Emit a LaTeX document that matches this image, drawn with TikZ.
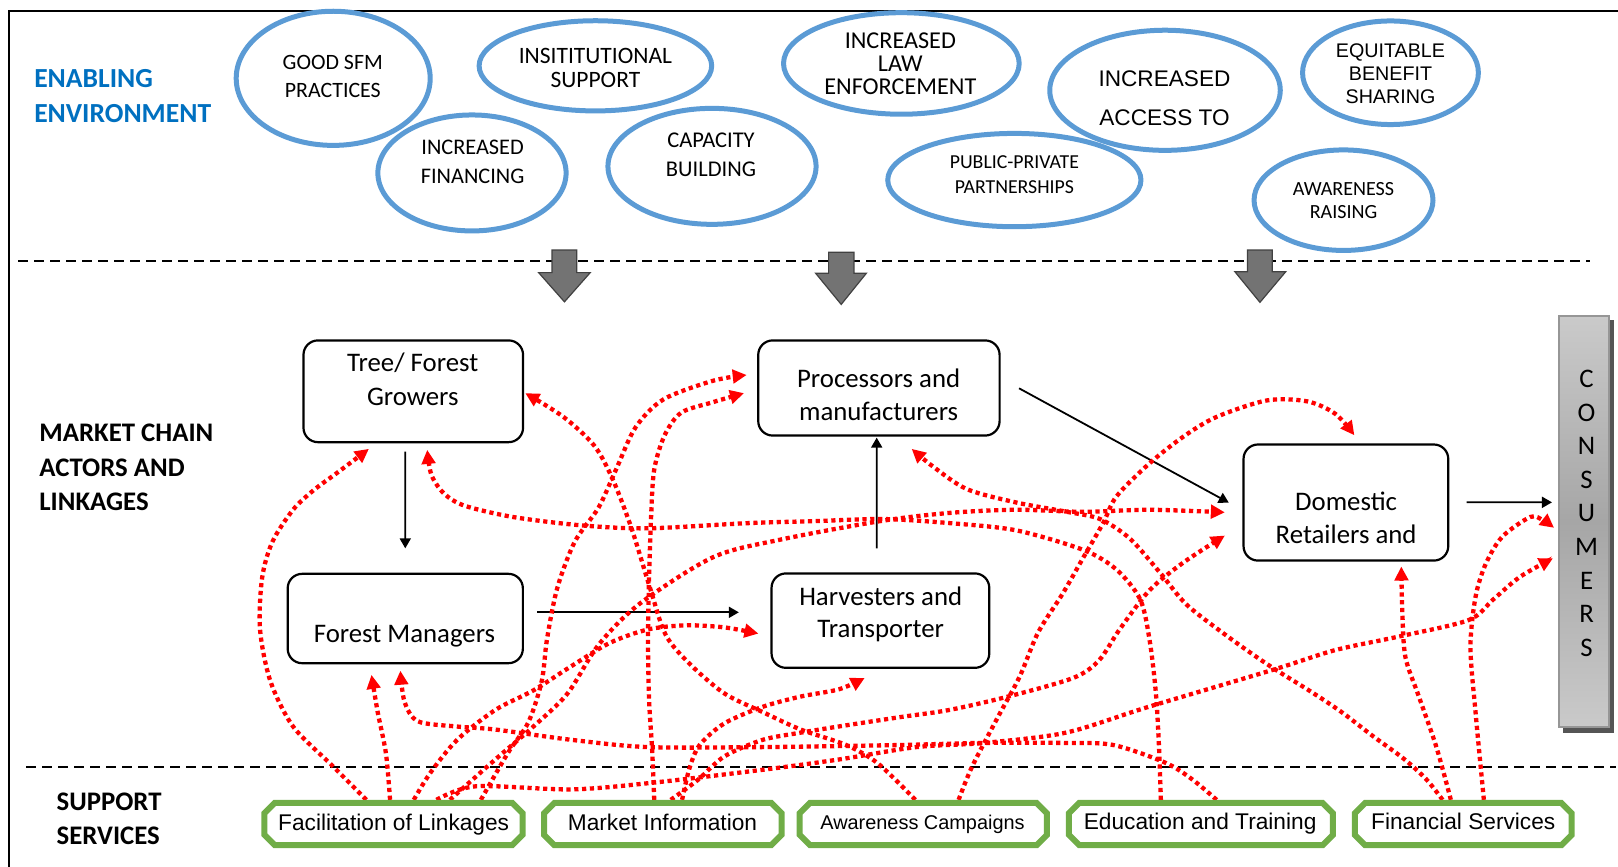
\documentclass[tikz,border=0pt]{standalone}
\usepackage{fontspec}
\setmainfont{Carlito}
\newfontfamily\arialfont{Liberation Sans}
\usetikzlibrary{shapes.geometric,arrows.meta,calc}

\newdimen\px
\px=1.0319pt
\newcommand\setfs[2]{\fontsize{#1}{#2}\selectfont}

\definecolor{ellblue}{RGB}{91,155,213}
\definecolor{envblue}{RGB}{0,112,192}
\definecolor{svcgreen}{RGB}{112,173,71}
\definecolor{linkred}{RGB}{255,0,0}
\definecolor{blockfill}{RGB}{115,115,115}
\definecolor{blockline}{RGB}{65,65,65}
\definecolor{barlight}{RGB}{202,202,202}
\definecolor{bardark}{RGB}{166,166,166}
\definecolor{barline}{RGB}{150,150,150}
\definecolor{barshadow}{RGB}{85,85,85}

\tikzset{
  ell/.style={draw=ellblue, line width=5pt, ellipse, inner sep=0},
  elltext/.style={align=center, inner sep=0},
  actor/.style={draw, line width=2.2pt, rounded corners=14\px, inner sep=0, outer sep=0},
  actortext/.style={font=\setfs{26.8}{32}, anchor=base, inner sep=0},
  svc/.style={inner sep=0, outer sep=0, minimum height=41\px},
  svcline/.style={draw=svcgreen, line width=6pt, fill=white, line join=miter},
  svctext/.style={font=\arialfont\setfs{22.7}{27}, anchor=base, inner sep=0},
  blk/.style={line width=1.8pt, -{Triangle[length=10pt,width=11pt]}},
  link/.style={draw=linkred, line width=4.3pt, dash pattern=on 4.2pt off 3.6pt,
    -{Triangle[length=14pt,width=13.5pt]}},
  sep/.style={line width=2pt, dash pattern=on 9.6pt off 6.4pt},
  blockarrow/.style={fill=blockfill, draw=blockline, line width=1.2pt, line join=miter},
  sidelabel/.style={font=\bfseries\setfs{26.8}{34.2}, align=left, anchor=west, inner sep=0},
}

% chamfered outline round a support-service node
\newcommand\chamfer[1]{%
  \draw[svcline] ([xshift=10\px]#1.north west) -- ([xshift=-10\px]#1.north east)
    -- ([yshift=-10\px]#1.north east) -- ([yshift=10\px]#1.south east)
    -- ([xshift=-10\px]#1.south east) -- ([xshift=10\px]#1.south west)
    -- ([yshift=10\px]#1.south west) -- ([yshift=-10\px]#1.north west) -- cycle;}

\begin{document}
\begin{tikzpicture}[x=1.0319pt, y=-1.0319pt]
\useasboundingbox (0,0) rectangle (1568,840);

% frame and section separators
\draw[line width=2pt] (9.1,840) -- (9.1,10.7) -- (1568,10.7);
\draw[sep] (17.7,253) -- (1541,253);
\draw[sep] (25.3,743) -- (1566,743);

% section labels
\node[sidelabel, text=envblue, font=\bfseries\setfs{27.6}{35.4}] (enable) at (33,92.9) {ENABLING\\ENVIRONMENT};
\node[sidelabel] (chain) at (38,453) {MARKET CHAIN\\ACTORS AND\\LINKAGES};
\node[sidelabel, font=\bfseries\setfs{26.8}{33.3}] (support) at (54.7,793.6) {SUPPORT\\SERVICES};

% enabling environment
\node[ell, minimum width=188\px, minimum height=130\px] (sfm) at (322.9,75.9) {};
\node[ell, minimum width=225.4\px, minimum height=87.4\px] (inst) at (577,63.8) {};
\node[ell, minimum width=182.4\px, minimum height=112.4\px] (fin-e) at (457.4,167.6) {};
\node[ell, minimum width=201.7\px, minimum height=112.4\px] (cap) at (690,161.2) {};
\node[ell, minimum width=228.4\px, minimum height=98.4\px] (law) at (873.5,61.5) {};
\node[ell, minimum width=223.4\px, minimum height=116.4\px] (access) at (1129,87.5) {};
\node[ell, minimum width=245.4\px, minimum height=90.4\px] (ppp) at (983,174.5) {};
\node[ell, minimum width=170.4\px, minimum height=100.4\px] (equit) at (1347.5,70.5) {};
\node[ell, minimum width=173.4\px, minimum height=97.4\px] (aware) at (1302,194) {};

\node[elltext, font=\setfs{21.9}{28}] (sfm-t) at (322.5,73.8) {GOOD SFM\\PRACTICES};
\node[elltext, font=\setfs{23.5}{23.9}] (inst-t) at (577,65.8) {INSITITUTIONAL\\SUPPORT};
\node[elltext, font=\setfs{22.3}{28.4}] (fin-t) at (458,156.7) {INCREASED\\FINANCING};
\node[elltext, font=\setfs{22.5}{29}] (cap-t) at (689,149.9) {CAPACITY\\BUILDING};
\node[elltext, font=\setfs{24.2}{22.65}] (law-t) at (872.5,61.9) {INCREASED\\LAW\\ENFORCEMENT};
\node[elltext, font=\arialfont\setfs{22.6}{38.7}] (access-t) at (1128.5,95.3) {INCREASED\\ACCESS TO};
\node[elltext, font=\setfs{19.8}{25}] (ppp-t) at (983,169) {PUBLIC-PRIVATE\\PARTNERSHIPS};
\node[elltext, font=\arialfont\setfs{19.7}{23.3}] (equit-t) at (1347.5,71.4) {EQUITABLE\\BENEFIT\\SHARING};
\node[elltext, font=\setfs{20.1}{22.7}] (aware-t) at (1302,194.3) {AWARENESS\\RAISING};

% block arrows from the enabling environment
\draw[blockarrow] (535,242.3) -- (559,242.3) -- (559,264.2) -- (572,264.2) -- (547,292.5) -- (522,264.2) -- (535,264.2) -- cycle;
\draw[blockarrow] (803,244.5) -- (827.5,244.5) -- (827.5,264.9) -- (839.5,264.9) -- (815.2,295) -- (790.5,264.9) -- (803,264.9) -- cycle;
\draw[blockarrow] (1209,242.3) -- (1233,242.3) -- (1233,263.3) -- (1246,263.3) -- (1221,293) -- (1196.7,263.3) -- (1209,263.3) -- cycle;

% market chain actors
\node[actor, minimum width=212.8\px, minimum height=98.6\px] (tree) at (400.5,379.2) {};
\node[actor, minimum width=233.9\px, minimum height=92.2\px] (proc) at (851.75,376) {};
\node[actor, minimum width=227.9\px, minimum height=86.6\px] (fm) at (392.75,599.4) {};
\node[actor, minimum width=211\px, minimum height=91.5\px] (harv) at (853.2,601.45) {};
\node[actor, minimum width=198.4\px, minimum height=112.5\px] (dom) at (1304.3,487) {};

\node[actortext] (tree-a) at (400,360) {Tree/ Forest};
\node[actortext] (tree-b) at (400,393.4) {Growers};
\node[actortext] (proc-a) at (851.5,375.3) {Processors and};
\node[actortext] (proc-b) at (851.5,407.7) {manufacturers};
\node[actortext] (fm-a) at (392,622.8) {Forest Managers};
\node[actortext] (harv-a) at (853.5,586.3) {Harvesters and};
\node[actortext] (harv-b) at (853.5,618) {Transporter};
\node[actortext] (dom-a) at (1304.5,494.9) {Domestic};
\node[actortext] (dom-b) at (1304.5,526.5) {Retailers and};

% consumers bar
\fill[barshadow] (1514.5,310) rectangle (1564.5,710);
\node[draw=barline, line width=2pt, top color=barlight, bottom color=barlight, middle color=bardark,
      minimum width=48.7\px, minimum height=398.7\px, inner sep=0, outer sep=0] (cons) at (1535.15,505.65) {};
\node[align=center, inner sep=0, font=\setfs{26.8}{33.6}] (cons-t) at (1537.5,497.4) {C\\O\\N\\S\\U\\M\\E\\R\\S};

% product flow
\draw[blk] ($(tree.south)+(-7.8,9.2)$) -- ($(fm.north)+(0,-24.7)$);
\draw[blk] ($(fm.east)+(13.8,-6)$) -- ($(harv.west)+(-31.7,-8.05)$);
\draw[blk] ($(harv.north)+(-3.6,-24.3)$) -- ($(proc.south)+(-2.15,2)$);
\draw[blk] ($(proc.east)+(18.85,0.3)$) -- ($(dom.west)+(-14.3,0.1)$);
\draw[blk] ($(dom.east)+(17.8,-0.2)$) -- ($(cons.west)+(-6.8,-18.85)$);

% support services
\node[svc, minimum width=250.1\px] (fac) at (381.35,798.6) {};
\node[svc, minimum width=230.1\px] (mi) at (642.35,798.6) {};
\node[svc, minimum width=239.6\px] (awc) at (894.8,798.6) {};
\node[svc, minimum width=255.8\px] (edu) at (1163.8,798.6) {};
\node[svc, minimum width=210.2\px] (fin) at (1418,798.6) {};

% link end points
\coordinate (fac1) at ($(fac.north)+(-26.35,-3)$);
\coordinate (fac2) at ($(fac.north)+(-3.35,-3)$);
\coordinate (fac3) at ($(fac.north)+(19.65,-3)$);
\coordinate (fac4) at ($(fac.north)+(41.65,-3)$);
\coordinate (fac5) at ($(fac.north)+(54.65,-3)$);
\coordinate (fac6) at ($(fac.north)+(84.65,-3)$);
\coordinate (mi1) at ($(mi.north)+(-8.35,-3)$);
\coordinate (mi2) at ($(mi.north)+(7.65,-3)$);
\coordinate (mi3) at ($(mi.north)+(18.65,-3)$);
\coordinate (awc1) at ($(awc.north)+(-7.8,-3)$);
\coordinate (awc2) at ($(awc.north)+(34.2,-3)$);
\coordinate (edu1) at ($(edu.north)+(-38.8,-3)$);
\coordinate (edu2) at ($(edu.north)+(15.2,-3)$);
\coordinate (fin1) at ($(fin.north)+(-20,-3)$);
\coordinate (fin2) at ($(fin.north)+(-12,-3)$);
\coordinate (fin3) at ($(fin.north)+(20,-3)$);

\coordinate (treeA) at ($(tree.south)+(-43,6.5)$);
\coordinate (treeB) at ($(tree.east)+(2.1,1.8)$);
\coordinate (treeC) at ($(tree.south)+(13.5,7.5)$);
\coordinate (procA) at ($(proc.west)+(-11.2,-12.6)$);
\coordinate (procB) at ($(proc.west)+(-13.8,5)$);
\coordinate (procC) at ($(proc.south)+(31.75,12.9)$);
\coordinate (domA) at ($(dom.north)+(8.2,-8.95)$);
\coordinate (domB) at ($(dom.west)+(-18.1,9.5)$);
\coordinate (domC) at ($(dom.west)+(-18.1,32)$);
\coordinate (domD) at ($(dom.south)+(53.7,5.75)$);
\coordinate (consA) at ($(cons.west)+(-4.8,5.85)$);
\coordinate (consB) at ($(cons.west)+(-5.8,35.35)$);
\coordinate (fmA) at ($(fm.south)+(-32.75,11.3)$);
\coordinate (fmB) at ($(fm.south)+(-4.75,7.3)$);
\coordinate (harvA) at ($(harv.west)+(-12.7,12.55)$);
\coordinate (harvB) at ($(harv.south)+(-15.2,9.8)$);

% support service linkages
\draw[link] plot[smooth] coordinates {(fac1) (322,742) (284,704) (262,660) (252,610) (254,560) (264,525) (284,494) (304,475) (327,458) (treeA)};
\draw[link] plot[smooth] coordinates {(fac2) (374,730) (366,690) (fmA)};
\draw[link] plot[smooth] coordinates {(fac3) (417,749) (443,717) (480,688) (517,669) (553,646) (591,623) (628,610) (665,606) (702,608) (harvA)};
\draw[link] plot[smooth] coordinates {(fac4) (461,762) (553,765) (628,759) (739,746) (813,736) (888,724) (953,720) (1033,710) (1113,685) (1234,649) (1294,630) (1355,617) (1423,601) (1447,581) (1473,559) (consB)};
\draw[link] plot[smooth] coordinates {(fac5) (480,736) (517,704) (550,672) (580,625) (620,585) (691,540) (756,523) (853,505) (921,497) (985,494) (1050,496) (1114,494) (domB)};
\draw[link] plot[smooth] coordinates {(fac6) (492,730) (512,700) (525,660) (530,620) (540,570) (557,525) (580,492) (597,455) (616,414) (643,387) (691,369) (procA)};
\draw[link] plot[smooth] coordinates {(mi1) (632,727) (629,678) (628,620) (629,560) (631,500) (634,455) (644,422) (660,400) (690,390) (procB)};
\draw[link] plot[smooth] coordinates {(mi2) (676,756) (702,733) (739,717) (776,710) (813,704) (872,695) (920,688) (977,675) (1040,657) (1065,640) (1085,610) (1114,572) (1147,545) (domC)};
\draw[link] plot[smooth] coordinates {(mi3) (668,745) (678,722) (702,701) (739,685) (776,675) (813,668) (harvB)};
\draw[link] plot[smooth] coordinates {(awc1) (851,740) (820,722) (776,707) (739,690) (702,672) (668,643) (645,615) (630,570) (612,512) (594,465) (576,432) (546,404) (treeB)};
\draw[link] plot[smooth] coordinates {(awc2) (942,743) (967,695) (988,656) (1006,613) (1030,575) (1050,540) (1069,507) (1082,481) (1114,449) (1147,423) (1179,404) (1228,388) (1267,389) (1294,401) (domA)};
\draw[link] plot[smooth] coordinates {(edu1) (1123,720) (1120,670) (1114,620) (1105,581) (1082,552) (1050,533) (985,514) (921,507) (856,503) (790,505) (724,507) (627,512) (562,509) (497,501) (450,490) (430,478) (418,460) (treeC)};
\draw[link] plot[smooth] coordinates {(edu2) (1155,755) (1129,739) (1079,722) (1033,720) (950,720) (872,722) (739,724) (628,724) (554,717) (480,707) (442,704) (405,699) (392,680) (fmB)};
\draw[link] plot[smooth] coordinates {(fin1) (1382,755) (1360,735) (1330,713) (1300,690) (1270,670) (1230,645) (1190,617) (1150,586) (1125,556) (1095,522) (1066,503) (1034,496) (985,487) (937,474) (904,452) (procC)};
\draw[link] plot[smooth] coordinates {(fin2) (1392,724) (1375,675) (1362,637) (1359,594) (domD)};
\draw[link] plot[smooth] coordinates {(fin3) (1430,691) (1425,627) (1430,578) (1440,546) (1456,520) (1483,501) (1495,504) (consA)};

% support service boxes
\chamfer{fac}
\chamfer{mi}
\chamfer{awc}
\chamfer{edu}
\chamfer{fin}
\node[svctext] (fac-t) at (381.5,805) {Facilitation of Linkages};
\node[svctext] (mi-t) at (642,805) {Market Information};
\node[svctext, font=\arialfont\setfs{19.9}{24}] (awc-t) at (894,804.3) {Awareness Campaigns};
\node[svctext] (edu-t) at (1163,804.3) {Education and Training};
\node[svctext] (fin-t2) at (1418,804.3) {Financial Services};
\end{tikzpicture}
\end{document}
